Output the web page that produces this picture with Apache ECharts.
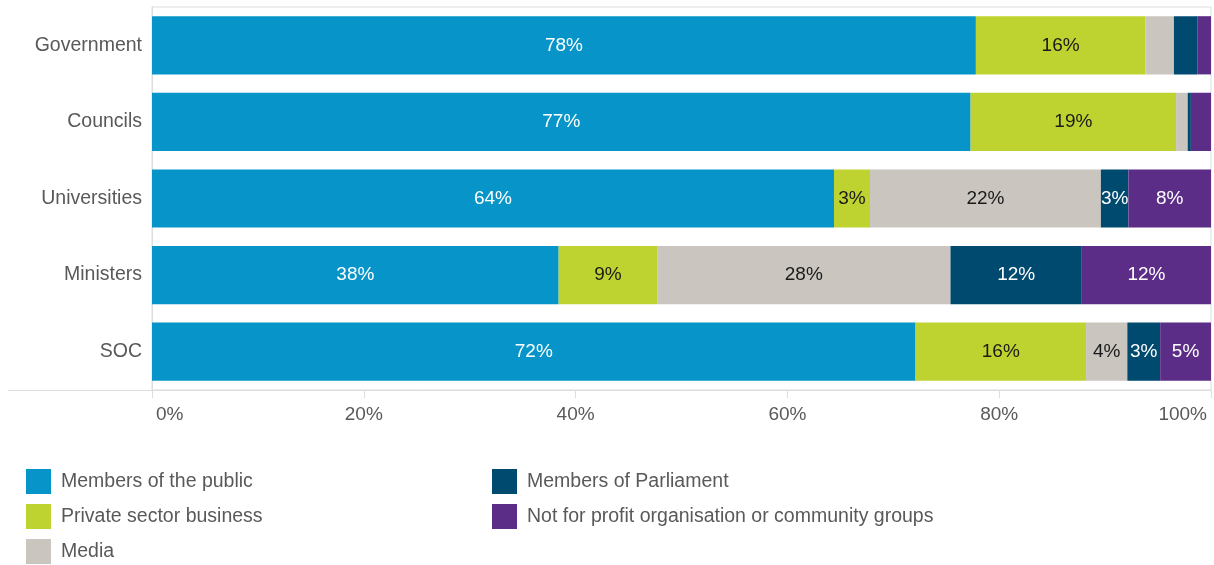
<!DOCTYPE html>
<html>
<head>
<meta charset="utf-8">
<script src="https://cdn.jsdelivr.net/npm/echarts@6/dist/echarts.min.js"></script>
<style>
  html, body { margin: 0; padding: 0; background: #fff; }
  #chart { width: 1214px; height: 565px; }
</style>
</head>
<body>
<div id="chart"></div>
<script>
// Who organisations engage with, share of contacts by group (percent)
const categories = ['Government', 'Councils', 'Universities', 'Ministers', 'SOC'];
const seriesNames = [
  'Members of the public',
  'Private sector business',
  'Media',
  'Members of Parliament',
  'Not for profit organisation or community groups'
];
const publicMembers = [77.8, 77.3, 64.4, 38.4, 72.1];
const privateSector = [16.0, 19.4, 3.4, 9.3, 16.1];
const media = [2.7, 1.1, 21.8, 27.7, 3.9];
const parliament = [2.2, 0.3, 2.6, 12.4, 3.1];
const notForProfit = [1.3, 1.9, 7.8, 12.2, 4.8];
const xTicks = [0, 20, 40, 60, 80, 100];
// segments left without a value label
const unlabelled = [['Government', 'Media']];

const values = [publicMembers, privateSector, media, parliament, notForProfit];
const colors = ['#0795c9', '#bfd330', '#cac6bf', '#004a70', '#5c2d87'];
const labelColors = ['#ffffff', '#1a1a1a', '#1a1a1a', '#ffffff', '#ffffff'];
const FONT = '"Liberation Sans", Arial, sans-serif';
const TEXT = '#595959';

const chart = echarts.init(document.getElementById('chart'), null, { renderer: 'canvas' });

const series = seriesNames.map((name, i) => ({
  name: name,
  type: 'bar',
  stack: 'total',
  barWidth: '76%',
  itemStyle: { color: colors[i] },
  emphasis: { disabled: true },
  label: {
    show: true,
    position: 'inside',
    color: labelColors[i],
    fontSize: 19,
    fontFamily: FONT,
    formatter: p => {
      const hidden = unlabelled.some(u => u[0] === p.name && u[1] === name);
      const r = Math.round(p.value);
      return (hidden || r < 3) ? '' : r + '%';
    }
  },
  data: values[i]
}));

const legendBase = {
  orient: 'vertical',
  top: 469,
  height: 100,
  padding: 0,
  itemWidth: 25, itemHeight: 25, itemGap: 10,
  icon: 'rect',
  textStyle: { color: TEXT, fontSize: 19.5, padding: [0, 0, 0, 5] },
  selectedMode: false
};

chart.setOption({
  animation: false,
  textStyle: { fontFamily: FONT },
  grid: {
    left: 152, right: 3, top: 7, bottom: 175,
    show: true, borderColor: '#dddddd', borderWidth: 1
  },
  xAxis: {
    type: 'value',
    min: xTicks[0],
    max: xTicks[xTicks.length - 1],
    interval: xTicks[1] - xTicks[0],
    axisLine: { show: true, lineStyle: { color: '#dddddd' } },
    axisTick: { show: true, length: 8, lineStyle: { color: '#dddddd' } },
    splitLine: { show: false },
    axisLabel: {
      formatter: '{value}%',
      color: TEXT,
      fontSize: 19,
      margin: 15,
      padding: [0, 4, 0, 4],
      alignMinLabel: 'left',
      alignMaxLabel: 'right'
    }
  },
  yAxis: {
    type: 'category',
    inverse: true,
    data: categories,
    axisLine: { show: true, lineStyle: { color: '#dddddd' } },
    axisTick: { show: false },
    axisLabel: { color: TEXT, fontSize: 19.5, margin: 10 }
  },
  legend: [
    Object.assign({}, legendBase, { data: seriesNames.slice(0, 3), left: 26 }),
    Object.assign({}, legendBase, { data: seriesNames.slice(3), left: 492 })
  ],
  graphic: [{
    type: 'line',
    shape: { x1: 8, y1: 390.5, x2: 152, y2: 390.5 },
    style: { stroke: '#dddddd', lineWidth: 1 },
    silent: true
  }],
  series: series
});
</script>
</body>
</html>
